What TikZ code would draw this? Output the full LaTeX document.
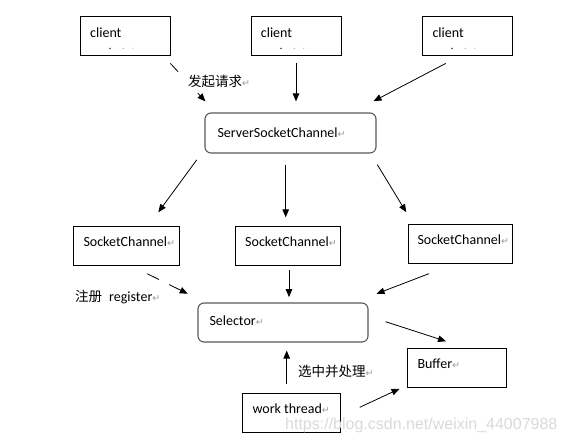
\documentclass[tikz,border=0pt]{standalone}
\usepackage{fontspec}
\setmainfont{Carlito}
\newfontfamily\cjk{Noto Sans CJK SC}
\newfontfamily\dvs{DejaVu Sans}
\newfontfamily\wmfont{Liberation Sans}
\usetikzlibrary{arrows.meta,calc}
\newcommand\pmark{{\dvs\fontsize{9.5}{9.5}\selectfont\textcolor{black!40}{↵}}}
\begin{document}
\begin{tikzpicture}[x=1pt,y=-1pt,
  box/.style={draw=black,line width=0.9pt,minimum width=#1,minimum height=39pt,inner sep=0pt},
  rbox/.style={draw=black!65,line width=1.1pt,rounded corners=6pt,minimum width=#1,minimum height=40pt,inner sep=0pt},
  txt/.style={anchor=base west,inner sep=0pt,font=\fontsize{14}{16}\selectfont},
  lbl/.style={anchor=base west,inner sep=0pt,font=\fontsize{14}{16}\selectfont},
  arr/.style={line width=0.8pt,-{Triangle[length=8pt,width=6.5pt]}},
  ln/.style={line width=0.8pt}
]
\useasboundingbox (0,0) rectangle (566,442);

% boxes
\node[box=90] (c1) at (125,35.5) {};
\node[box=90] (c2) at (296,35.5) {};
\node[box=90] (c3) at (467,35.5) {};
\node[rbox=171] (ssc) at (290.5,133) {};
\node[box=106] (sc1) at (126,245.5) {};
\node[box=105] (sc2) at (288,246) {};
\node[box=104] (sc3) at (460,243.7) {};
\node[rbox=170,minimum height=39pt] (sel) at (283,322.5) {};
\node[box=98] (wt) at (291,412.5) {};
\node[box=99] (buf) at (456.5,367.5) {};

% texts in boxes
\node[txt] (c1t) at (90,37.5) {client};
\node[txt] (c2t) at (260.7,37.5) {client};
\node[txt] (c3t) at (432.3,37.5) {client};
\node[txt] (ssct) at (217.3,137.3) {ServerSocketChannel\pmark};
\node[txt] (sc1t) at (83.3,246.7) {SocketChannel\pmark};
\node[txt] (sc2t) at (245,246.7) {SocketChannel\pmark};
\node[txt] (sc3t) at (417.3,244.3) {SocketChannel\pmark};
\node[txt] (selt) at (209.3,325) {Selector\pmark};
\node[txt] (wtt) at (252.3,413.3) {work thread\pmark};
\node[txt] (buft) at (417.3,368.3) {Buffer\pmark};

% small dots under client
\foreach \dx in {0,171,342}{
  \fill[black] (110+\dx,48.3) circle (0.75);
  \fill[black!45] (123.3+\dx,48.3) circle (0.6);
  \fill[black!30] (132.7+\dx,48.3) circle (0.6);
}

% arrows client -> ServerSocketChannel
\coordinate (a1s) at ($(c1.south east)+(0,8)$);
\coordinate (a1e) at ($(ssc.north west)+(1,-11)$);
\draw[ln] (a1s) -- ($(a1s)!0.22!(a1e)$);
\draw[arr] ($(a1s)!0.78!(a1e)$) -- (a1e);
\draw[arr] ($(c2.south)+(0,8)$) -- ($(c2.south |- ssc.north)+(0,-11)$);
\draw[arr] ($(c3.south)+(-21.3,8)$) -- ($(ssc.north east)+(-3,-11.3)$);

% ServerSocketChannel -> SocketChannels
\draw[arr] ($(ssc.south west)+(-7.7,6.3)$) -- ($(sc1.north)+(32.3,-13.3)$);
\draw[arr] ($(ssc.south)+(-4.8,11)$) -- ($(sc2.north)+(-2.3,-8.7)$);
\draw[arr] ($(ssc.south east)+(0.7,11)$) -- ($(sc3.north west)+(-1.3,-11.5)$);

% SocketChannels -> Selector
\coordinate (b1s) at ($(sc1.south)+(21.3,8.3)$);
\coordinate (b1e) at ($(sel.north west)+(-9.7,-8.7)$);
\draw[ln] (b1s) -- ($(b1s)!0.29!(b1e)$);
\draw[arr] ($(b1s)!0.54!(b1e)$) -- (b1e);
\draw[arr] ($(sc2.south)+(1,4.3)$) -- ($(sc2.south |- sel.north)+(1,-5.3)$);
\draw[arr] ($(sc3.south)+(-31,10)$) -- ($(sel.north east)+(8,-8.7)$);

% Selector -> Buffer, work thread -> Selector / Buffer
\draw[arr] ($(sel.east)+(17,-0.8)$) -- ($(buf.north)+(-10.5,-6.3)$);
\draw[arr] ($(wt.north)+(-4.3,-9)$) -- ($(wt.north |- sel.south)+(-4.3,8)$);
\draw[arr] ($(wt.east)+(19.3,-5.2)$) -- ($(buf.south west)+(-7,1.3)$);

% labels
\node[lbl] (l1) at (188,86) {{\cjk\fontsize{13.5}{16}\selectfont 发起请求}\pmark};
\node[lbl] (l2) at (75,301.7) {{\cjk\fontsize{13.5}{16}\selectfont 注册}\hspace{7pt}register\pmark};
\node[lbl] (l3) at (298,376) {{\cjk\fontsize{13.5}{16}\selectfont 选中并处理}\pmark};

% watermark
\node[anchor=base west,inner sep=0pt,font=\wmfont\fontsize{16}{16}\selectfont,text=black!15] (wm) at (285,429.5) {https://blog.csdn.net/weixin\_44007988};
\end{tikzpicture}
\end{document}
